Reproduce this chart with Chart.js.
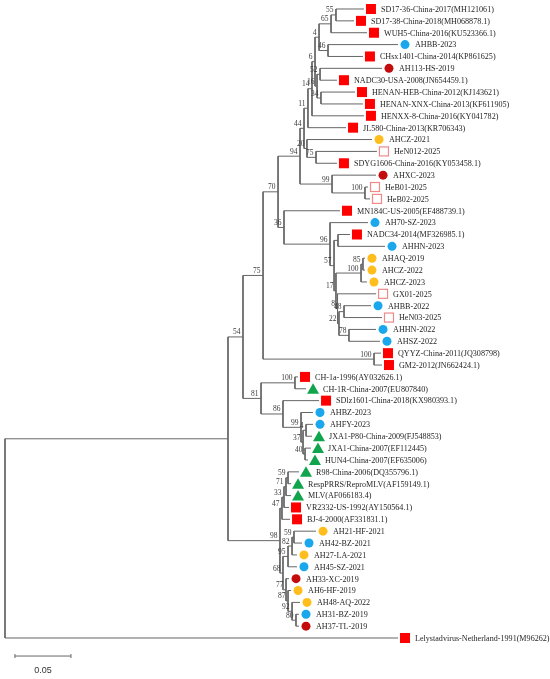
<!DOCTYPE html>
<html>
<head>
<meta charset="utf-8">
<script src="https://cdn.jsdelivr.net/npm/chart.js@4.4.1/dist/chart.umd.min.js"></script>
<style>
    html, body { margin: 0; padding: 0; background: #ffffff; }
    canvas { display: block; }
</style>
</head>
<body>
<canvas id="treeChart" width="550" height="679"></canvas>
<script>
// Leaves, top to bottom
const leafNames = [
    'SD17-36-China-2017(MH121061)', 'SD17-38-China-2018(MH068878.1)', 'WUH5-China-2016(KU523366.1)',
    'AHBB-2023', 'CHsx1401-China-2014(KP861625)', 'AH113-HS-2019', 'NADC30-USA-2008(JN654459.1)',
    'HENAN-HEB-China-2012(KJ143621)', 'HENAN-XNX-China-2013(KF611905)', 'HENXX-8-China-2016(KY041782)',
    'JL580-China-2013(KR706343)', 'AHCZ-2021', 'HeN012-2025', 'SDYG1606-China-2016(KY053458.1)',
    'AHXC-2023', 'HeB01-2025', 'HeB02-2025', 'MN184C-US-2005(EF488739.1)', 'AH70-SZ-2023',
    'NADC34-2014(MF326985.1)', 'AHHN-2023', 'AHAQ-2019', 'AHCZ-2022', 'AHCZ-2023', 'GX01-2025',
    'AHBB-2022', 'HeN03-2025', 'AHHN-2022', 'AHSZ-2022', 'QYYZ-China-2011(JQ308798)',
    'GM2-2012(JN662424.1)', 'CH-1a-1996(AY032626.1)', 'CH-1R-China-2007(EU807840)',
    'SDlz1601-China-2018(KX980393.1)', 'AHBZ-2023', 'AHFY-2023', 'JXA1-P80-China-2009(FJ548853)',
    'JXA1-China-2007(EF112445)', 'HUN4-China-2007(EF635006)', 'R98-China-2006(DQ355796.1)',
    'RespPRRS/ReproMLV(AF159149.1)', 'MLV(AF066183.4)', 'VR2332-US-1992(AY150564.1)',
    'BJ-4-2000(AF331831.1)', 'AH21-HF-2021', 'AH42-BZ-2021', 'AH27-LA-2021', 'AH45-SZ-2021',
    'AH33-XC-2019', 'AH6-HF-2019', 'AH48-AQ-2022', 'AH31-BZ-2019', 'AH37-TL-2019',
    'Lelystadvirus-Netherland-1991(M96262)'
];

const leafTypes = [
    'ref', 'ref', 'ref', 'blue', 'ref', 'dark', 'ref', 'ref', 'ref', 'ref',
    'ref', 'orange', 'new', 'ref', 'dark', 'new', 'new', 'ref', 'blue', 'ref',
    'blue', 'orange', 'orange', 'orange', 'new', 'blue', 'new', 'blue', 'blue', 'ref',
    'ref', 'ref', 'green', 'ref', 'blue', 'blue', 'green', 'green', 'green', 'green',
    'green', 'green', 'ref', 'ref', 'orange', 'blue', 'orange', 'blue', 'dark', 'orange',
    'orange', 'blue', 'dark', 'ref'
];

// distance of each leaf from the root
const leafDist = [
    0.3205, 0.3116, 0.3232, 0.3509, 0.3196, 0.3366, 0.2964, 0.3125, 0.3196, 0.3205,
    0.3045, 0.3277, 0.3321, 0.2964, 0.3313, 0.3241, 0.3259, 0.2991, 0.3241, 0.3080,
    0.3393, 0.3214, 0.3214, 0.3232, 0.3313, 0.3268, 0.3366, 0.3313, 0.3348, 0.3357,
    0.3366, 0.2616, 0.2688, 0.2804, 0.2750, 0.2750, 0.2741, 0.2732, 0.2705, 0.2625,
    0.2554, 0.2554, 0.2536, 0.2545, 0.2777, 0.2652, 0.2607, 0.2607, 0.2536, 0.2554,
    0.2634, 0.2625, 0.2625, 0.3509
];

// internal nodes: children (number = leaf index), distance from root, bootstrap
const nodeIds = [
    'root', 'nI', 'n54', 'n75', 'n70', 'n94', 'n44', 'n11', 'n14', 'n6', 'n4', 'n65', 'n55', 'n46',
    'n16', 'n52', 'n34', 'n20', 'n75b', 'n99', 'n100a', 'n36', 'n96', 'n57', 'nW', 'n17', 'n100b',
    'n85', 'n8', 'n22', 'n48', 'n78', 'n100d', 'n81', 'n100c', 'n86', 'n99b', 'n37', 'n4b', 'n40',
    'n98', 'n47', 'n33', 'n71', 'n59a', 'n68', 'n95', 'n82', 'n59b', 'n77', 'n87', 'n92', 'n80'
];

const nodeKids = [
    ['nI', 53], ['n54', 'n98'], ['n75', 'n81'], ['n70', 'n100d'], ['n94', 'n36'], ['n44', 'n99'],
    ['n11', 'n20'], ['n14', 10], ['n6', 9], ['n4', 'n16'], ['n65', 'n46'], ['n55', 2], [0, 1], [3, 4],
    ['n52', 'n34'], [5, 6], [7, 8], [11, 'n75b'], [12, 13], [14, 'n100a'], [15, 16], [17, 'n96'],
    [18, 'n57'], ['nW', 'n17'], [19, 20], ['n100b', 'n8'], ['n85', 23], [21, 22], [24, 'n22'],
    ['n48', 'n78'], [25, 26], [27, 28], [29, 30], ['n100c', 'n86'], [31, 32], [33, 'n99b'],
    [34, 'n37'], ['n4b', 'n40'], [35, 36], [37, 38], ['n47', 'n68'], ['n33', 43], ['n71', 42],
    ['n59a', 41], [39, 40], ['n95', 'n77'], ['n82', 47], ['n59b', 46], [44, 45], [48, 'n87'],
    [49, 'n92'], [50, 'n80'], [51, 52]
];

const nodeDist = [
    0, 0.1991, 0.2125, 0.2304, 0.2438, 0.2634, 0.2670, 0.2705, 0.2741, 0.2768, 0.2804, 0.2911, 0.2955,
    0.2884, 0.2786, 0.2813, 0.2821, 0.2696, 0.2777, 0.2920, 0.3214, 0.2491, 0.2902, 0.2938, 0.2973,
    0.2955, 0.3179, 0.3196, 0.2969, 0.2982, 0.3027, 0.3071, 0.3295, 0.2286, 0.2589, 0.2482, 0.2643,
    0.2661, 0.2688, 0.2679, 0.2455, 0.2473, 0.2491, 0.2509, 0.2527, 0.2482, 0.2527, 0.2563, 0.2580,
    0.2509, 0.2527, 0.2563, 0.2598
];

const nodeSupport = [
    '', '', '54', '75', '70', '94', '44', '11', '14', '6', '4', '65', '55', '46',
    '16', '52', '34', '20', '75', '99', '100', '36', '96', '57', '', '17', '100',
    '85', '8', '22', '48', '78', '100', '81', '100', '86', '99', '37', '4', '40',
    '98', '47', '33', '71', '59', '68', '95', '82', '59', '77', '87', '92', '80'
];

const scaleBarLength = 0.05;
const scaleBarStart = 0.0089;
const scaleBarRow = 54.52;

const markColors = {
    ref: '#FF0000',
    new: '#EE8A8A',
    blue: '#1AA7EC',
    orange: '#FFBE1E',
    dark: '#C40C0C',
    green: '#10A44C'
};

const rowCache = {};

function kidDist(ref) {
    return typeof ref === 'number' ? leafDist[ref] : nodeDist[nodeIds.indexOf(ref)];
}

function kidRow(ref) {
    if (typeof ref === 'number') {
        return ref;
    }
    if (rowCache[ref] === undefined) {
        const kids = nodeKids[nodeIds.indexOf(ref)];
        rowCache[ref] = (kidRow(kids[0]) + kidRow(kids[kids.length - 1])) / 2;
    }
    return rowCache[ref];
}

// Elbow branches, one polyline per node, broken by null points
const branchPoints = [];
nodeIds.forEach((id, i) => {
    const kids = nodeKids[i];
    const first = kids[0];
    const last = kids[kids.length - 1];
    branchPoints.push({ x: kidDist(first), y: kidRow(first) });
    branchPoints.push({ x: nodeDist[i], y: kidRow(first) });
    branchPoints.push({ x: nodeDist[i], y: kidRow(last) });
    branchPoints.push({ x: kidDist(last), y: kidRow(last) });
    branchPoints.push({ x: nodeDist[i], y: null });
});

const scaleBarPoints = [
    { x: scaleBarStart, y: scaleBarRow },
    { x: scaleBarStart + scaleBarLength, y: scaleBarRow }
];

function drawMark(ctx, type, cx, cy) {
    ctx.save();
    if (type === 'ref') {
        ctx.fillStyle = markColors.ref;
        ctx.fillRect(cx - 5, cy - 5, 10, 10);
    } else if (type === 'new') {
        ctx.fillStyle = '#ffffff';
        ctx.fillRect(cx - 5, cy - 5, 10, 10);
        ctx.strokeStyle = markColors.new;
        ctx.lineWidth = 1.2;
        ctx.strokeRect(cx - 4.5, cy - 4.5, 9, 9);
    } else if (type === 'green') {
        ctx.fillStyle = markColors.green;
        ctx.beginPath();
        ctx.moveTo(cx, cy - 5.5);
        ctx.lineTo(cx + 6, cy + 5);
        ctx.lineTo(cx - 6, cy + 5);
        ctx.closePath();
        ctx.fill();
    } else {
        ctx.fillStyle = markColors[type];
        ctx.beginPath();
        ctx.arc(cx, cy, 4.5, 0, Math.PI * 2);
        ctx.fill();
    }
    ctx.restore();
}

const treeLabels = {
    id: 'treeLabels',
    afterDatasetsDraw(chart) {
        const ctx = chart.ctx;
        const xs = chart.scales.x;
        const ys = chart.scales.y;
        ctx.save();

        // markers and taxon names
        ctx.font = '9px "Liberation Serif", "Times New Roman", serif';
        ctx.textAlign = 'left';
        ctx.textBaseline = 'middle';
        ctx.fillStyle = '#1f1f1f';
        leafNames.forEach((name, i) => {
            const px = xs.getPixelForValue(leafDist[i]);
            const py = ys.getPixelForValue(i);
            drawMark(ctx, leafTypes[i], px + 7, py);
            ctx.save();
            ctx.translate(px + 17, py + 0.5);
            ctx.scale(0.9, 1);
            ctx.fillText(name, 0, 0);
            ctx.restore();
        });

        // bootstrap values
        ctx.font = '7.5px "Liberation Serif", "Times New Roman", serif';
        ctx.textAlign = 'right';
        ctx.textBaseline = 'alphabetic';
        ctx.fillStyle = '#3a3a3a';
        nodeIds.forEach((id, i) => {
            if (!nodeSupport[i]) {
                return;
            }
            const px = xs.getPixelForValue(nodeDist[i]);
            const py = ys.getPixelForValue(kidRow(id));
            ctx.fillText(nodeSupport[i], px - 2.5, py - 2.5);
        });

        // scale bar end ticks and caption
        const bx0 = xs.getPixelForValue(scaleBarStart);
        const bx1 = xs.getPixelForValue(scaleBarStart + scaleBarLength);
        const by = ys.getPixelForValue(scaleBarRow);
        ctx.strokeStyle = '#666666';
        ctx.lineWidth = 1;
        ctx.beginPath();
        ctx.moveTo(bx0, by - 2);
        ctx.lineTo(bx0, by + 2);
        ctx.moveTo(bx1, by - 2);
        ctx.lineTo(bx1, by + 2);
        ctx.stroke();
        ctx.font = '9px "Liberation Sans", Arial, sans-serif';
        ctx.textAlign = 'center';
        ctx.textBaseline = 'middle';
        ctx.fillStyle = '#333333';
        ctx.fillText(scaleBarLength.toFixed(2), (bx0 + bx1) / 2, by + 14);

        ctx.restore();
    }
};

new Chart(document.getElementById('treeChart'), {
    type: 'line',
    data: {
        datasets: [{
            data: branchPoints,
            borderColor: '#666666',
            borderWidth: 1,
            pointRadius: 0,
            tension: 0,
            spanGaps: false,
            fill: false,
            clip: false
        }, {
            data: scaleBarPoints,
            borderColor: '#666666',
            borderWidth: 1,
            pointRadius: 0,
            tension: 0,
            fill: false,
            clip: false
        }]
    },
    options: {
        responsive: false,
        animation: false,
        events: [],
        layout: { padding: 0 },
        plugins: {
            legend: { display: false },
            tooltip: { enabled: false }
        },
        scales: {
            x: { type: 'linear', display: false, min: -0.004464, max: 0.486607 },
            y: { type: 'linear', display: false, reverse: true, min: -0.758, max: 56.455 }
        }
    },
    plugins: [treeLabels]
});
</script>
</body>
</html>
